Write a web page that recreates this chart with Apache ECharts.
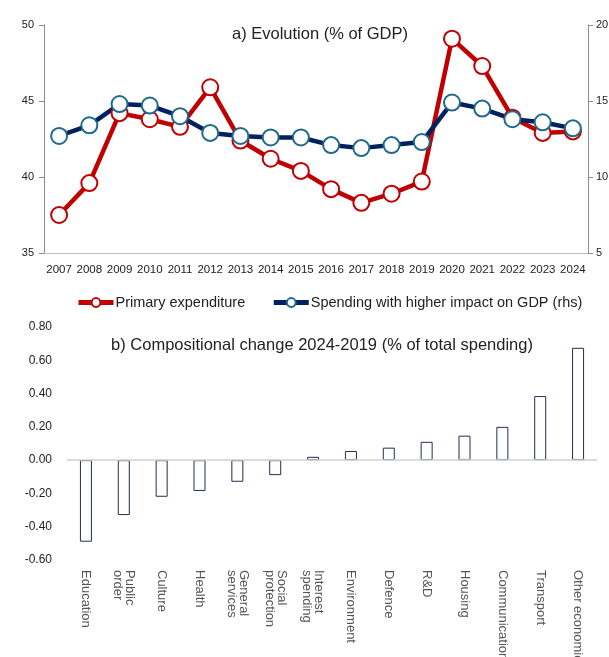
<!DOCTYPE html>
<html>
<head>
<meta charset="utf-8">
<script src="https://cdn.jsdelivr.net/npm/echarts@6/dist/echarts.min.js"></script>
<style>
  html, body { margin: 0; padding: 0; background: #fff; }
  #chart { width: 609px; height: 657px; }
</style>
</head>
<body>
<div id="chart"></div>
<script>
// panel a) evolution, % of GDP
var years = ["2007", "2008", "2009", "2010", "2011", "2012", "2013", "2014", "2015",
  "2016", "2017", "2018", "2019", "2020", "2021", "2022", "2023", "2024"];
var primaryExp = [37.5, 39.6, 44.2, 43.8, 43.3, 45.9, 42.4, 41.2, 40.4,
  39.2, 38.3, 38.9, 39.7, 49.1, 47.3, 43.9, 42.9, 43.0];
var highImpact = [12.7, 13.4, 14.8, 14.7, 14.0, 12.9, 12.7, 12.6, 12.6,
  12.1, 11.9, 12.1, 12.3, 14.9, 14.5, 13.8, 13.6, 13.2];

// panel b) compositional change 2024-2019
var functions = ["Education", "Public\norder", "Culture", "Health", "General\nservices",
  "Social\nprotection", "Interest\nspending", "Environment", "Defence", "R&D",
  "Housing", "Communication", "Transport", "Other economic"];
var compChange = [-0.49, -0.33, -0.22, -0.185, -0.13, -0.09, 0.02, 0.055, 0.075,
  0.11, 0.147, 0.20, 0.385, 0.675];

var FONT = "Liberation Sans, Arial, sans-serif";
var RED = "#C00000", NAVY = "#002060";

var chart = echarts.init(document.getElementById("chart"));
chart.setOption({
  animation: false,
  textStyle: { fontFamily: FONT },
  title: [
    { text: "a) Evolution (% of GDP)", left: 315, top: 21, textAlign: "center",
      textStyle: { fontSize: 16.5, fontWeight: "normal", color: "#222", fontFamily: FONT } },
    { text: "b) Compositional change 2024-2019 (% of total spending)", left: 317, top: 332, textAlign: "center",
      textStyle: { fontSize: 16.5, fontWeight: "normal", color: "#222", fontFamily: FONT } }
  ],
  legend: {
    left: 71, top: 290, itemWidth: 35, itemHeight: 11, itemGap: 26,
    lineStyle: { width: 5 },
    textStyle: { fontSize: 14.5, color: "#222", padding: [0, 0, 0, -3] },
    data: ["Primary expenditure", "Spending with higher impact on GDP (rhs)"]
  },
  grid: [
    { left: 44, right: 21, top: 25, height: 228, outerBoundsMode: "none" },
    { left: 67, right: 12, top: 327, height: 233, outerBoundsMode: "none" }
  ],
  xAxis: [
    { type: "category", gridIndex: 0, data: years,
      axisLine: { lineStyle: { color: "#bfbfbf", width: 1 } },
      axisTick: { show: false },
      axisLabel: { fontSize: 11.5, color: "#222", margin: 11, interval: 0 } },
    { type: "category", gridIndex: 1, data: functions,
      axisLine: { show: false }, axisTick: { show: false },
      axisLabel: { rotate: -90, fontSize: 13, color: "#555", margin: 10, interval: 0, lineHeight: 12 } }
  ],
  yAxis: [
    { type: "value", gridIndex: 0, min: 35, max: 50, interval: 5,
      axisLine: { show: true, lineStyle: { color: "#8c8c8c" } },
      axisTick: { show: true, length: 5, lineStyle: { color: "#8c8c8c" } },
      splitLine: { show: false },
      axisLabel: { fontSize: 11, color: "#222", margin: 10 } },
    { type: "value", gridIndex: 0, position: "right", min: 5, max: 20, interval: 5,
      axisLine: { show: true, lineStyle: { color: "#8c8c8c" } },
      axisTick: { show: true, length: 5, lineStyle: { color: "#8c8c8c" } },
      splitLine: { show: false },
      axisLabel: { fontSize: 11, color: "#222", margin: 8 } },
    { type: "value", gridIndex: 1, min: -0.6, max: 0.8, interval: 0.2,
      axisLine: { show: false }, axisTick: { show: false }, splitLine: { show: false },
      axisLabel: { fontSize: 12, color: "#222", margin: 15,
        formatter: function (v) { return (Math.abs(v) < 1e-9 ? 0 : v).toFixed(2); } } }
  ],
  series: [
    { name: "Primary expenditure", type: "line", xAxisIndex: 0, yAxisIndex: 0,
      data: primaryExp, symbol: "circle", symbolSize: 16,
      lineStyle: { color: RED, width: 4.5 },
      itemStyle: { color: "#fff", borderColor: RED, borderWidth: 2 } },
    { name: "Spending with higher impact on GDP (rhs)", type: "line", xAxisIndex: 0, yAxisIndex: 1,
      data: highImpact, symbol: "circle", symbolSize: 16,
      lineStyle: { color: NAVY, width: 4.5 },
      itemStyle: { color: "#fff", borderColor: "#1f6a8c", borderWidth: 2 } },
    { name: "Compositional change", type: "bar", xAxisIndex: 1, yAxisIndex: 2,
      data: compChange, barWidth: 12,
      itemStyle: { color: "#fff", borderColor: "#1f2f4f", borderWidth: 1 },
      markLine: { silent: true, symbol: "none", label: { show: false },
        lineStyle: { color: "#d0d0d0", type: "solid", width: 1.5 },
        data: [{ yAxis: 0 }] } }
  ]
});
</script>
</body>
</html>
